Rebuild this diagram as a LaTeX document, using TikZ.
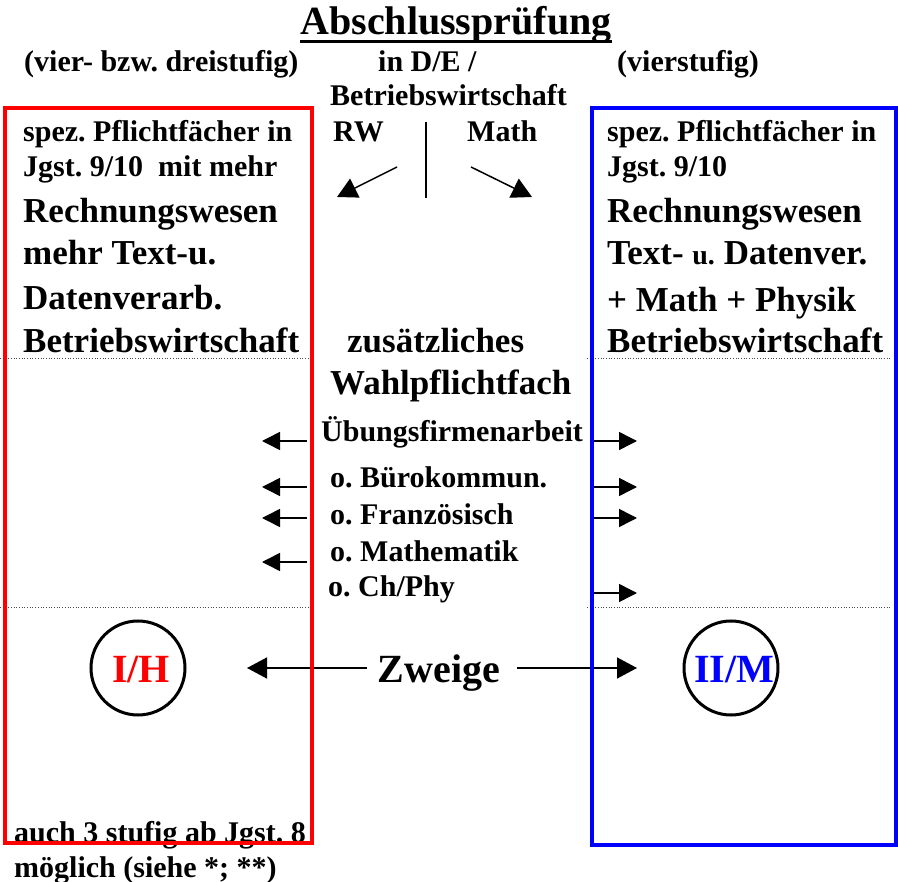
\documentclass[tikz,border=0pt]{standalone}
\usepackage{fontspec}
\setmainfont{Liberation Serif}
\usetikzlibrary{arrows.meta}
\frenchspacing
\begin{document}
\begin{tikzpicture}[x=1pt,y=-1pt,
  t30/.style={anchor=base west, inner sep=0pt, font=\bfseries\fontsize{30}{36}\selectfont},
  t35/.style={anchor=base west, inner sep=0pt, font=\bfseries\fontsize{35}{42}\selectfont},
  t40/.style={anchor=base, inner sep=0pt, font=\bfseries\fontsize{40}{48}\selectfont},
  arr/.style={-{Triangle[length=18pt 0,width=18pt 0]}, line width=1.5pt},
  bigarr/.style={-{Triangle[length=20pt 0,width=21pt 0]}, line width=1.5pt},
  dotline/.style={dotted, line width=0.7pt, black!70},
  ring/.style={circle, draw=black, line width=3pt, minimum size=94pt, inner sep=0pt}
]
\useasboundingbox (0,0) rectangle (898,882);

% title
\node[t40] (title) at (456,35) {Abschlussprüfung};
\draw[line width=3pt] ([yshift=-6.5pt]title.base west) -- ([yshift=-6.5pt]title.base east);

\node[t30] (l0) at (24,72) {(vier- bzw. dreistufig)};
\node[t30] (m0) at (378,72) {in D/E /};
\node[t30] (r0) at (617,72) {(vierstufig)};
\node[t30] (m1) at (330,106) {Betriebswirtschaft};
\node[t30] (rw) at (333,142) {RW};
\node[t30] (ma) at (467,142) {Math};

% left box text
\node[t30] (l1) at (23,142) {spez. Pflichtfächer in};
\node[t30] (l2) at (23,177) {Jgst. 9/10\ \ mit mehr};
\node[t35] (l3) at (23,223) {Rechnungswesen};
\node[t35] (l4) at (23,265) {mehr Text-u.};
\node[t35] (l5) at (23,310) {Datenverarb.};
\node[t35] (l6) at (23,353) {Betriebswirtschaft};

% right box text
\node[t30] (r1) at (607,142) {spez. Pflichtfächer in};
\node[t30] (r2) at (607,177) {Jgst. 9/10};
\node[t35] (r3) at (607,223) {Rechnungswesen};
\node[t35] (r4) at (607,265) {Text- {\fontsize{28}{34}\selectfont u.} Datenver.};
\node[t35] (r5) at (607,312) {+ Math + Physik};
\node[t35] (r6) at (607,353) {Betriebswirtschaft};

% middle
\node[t35] (m2) at (347,353) {zusätzliches};
\node[t35] (m3) at (330,395) {Wahlpflichtfach};
\node[t30] (m4) at (321,442) {Übungsfirmenarbeit};
\node[t30] (m5) at (330,488) {o. Bürokommun.};
\node[t30] (m6) at (330,525) {o. Französisch};
\node[t30] (m7) at (330,562) {o. Mathematik};
\node[t30] (m8) at (328,597) {o. Ch/Phy};

% divider and diagonal arrows
\coordinate (vt) at (426,122);
\coordinate (vb) at (426,198);
\draw[line width=1.5pt] (vt) -- (vb);
\coordinate (d1s) at (397,167); \coordinate (d1e) at (337,197);
\coordinate (d2s) at (471,167); \coordinate (d2e) at (532,197);
\draw[bigarr] (d1s) -- (d1e);
\draw[bigarr] (d2s) -- (d2e);

% dotted lines
\coordinate (p1a) at (0,358); \coordinate (p1b) at (313,358);
\coordinate (p2a) at (587,358); \coordinate (p2b) at (892,358);
\coordinate (p3a) at (0,607); \coordinate (p3b) at (313,607);
\coordinate (p4a) at (587,607); \coordinate (p4b) at (892,607);
\draw[dotline] (p1a) -- (p1b);
\draw[dotline] (p2a) -- (p2b);
\draw[dotline] (p3a) -- (p3b);
\draw[dotline] (p4a) -- (p4b);

% left arrows
\foreach \n/\y in {1/441,2/487,3/518,4/562}{
  \coordinate (la\n s) at (307,\y); \coordinate (la\n e) at (262,\y);
  \draw[arr] (la\n s) -- (la\n e);
}
% right arrows
\foreach \n/\y in {1/441,2/487,3/518,4/593}{
  \coordinate (ra\n s) at (592,\y); \coordinate (ra\n e) at (637,\y);
  \draw[arr] (ra\n s) -- (ra\n e);
}

% bottom
\node[t30] (b1) at (14,842) {auch 3 stufig ab Jgst. 8};
\node[t30] (b2) at (14,877) {möglich (siehe *; **)};

\node[ring] (c1) at (138,668) {};
\node[t40, red] (ih) at (141,683) {I/H};
\node[ring] (c2) at (731,668) {};
\node[t40, blue] (iim) at (734,683) {II/M};
\node[t40] (zw) at (439,683) {Zweige};
\coordinate (zls) at (367,668); \coordinate (zle) at (247,668);
\coordinate (zrs) at (517,668); \coordinate (zre) at (637,668);
\draw[bigarr] (zls) -- (zle);
\draw[bigarr] (zrs) -- (zre);

% boxes
\coordinate (rb1) at (5,108); \coordinate (rb2) at (312,843);
\coordinate (bb1) at (592,108); \coordinate (bb2) at (896,845);
\draw[red, line width=4pt] (rb1) rectangle (rb2);
\draw[blue, line width=4pt] (bb1) rectangle (bb2);
\end{tikzpicture}
\end{document}
